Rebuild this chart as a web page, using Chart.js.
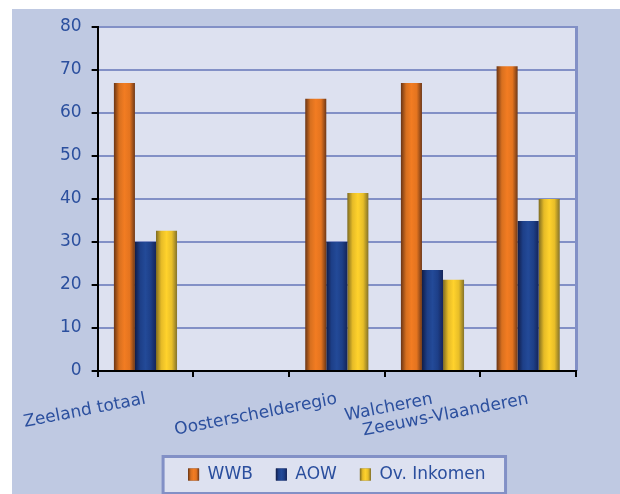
<!DOCTYPE html>
<html>
<head>
<meta charset="utf-8">
<script src="https://cdn.jsdelivr.net/npm/chart.js@4.4.1/dist/chart.umd.min.js"></script>
<style>
  body { margin: 0; background: #ffffff; }
  canvas { display: block; }
</style>
</head>
<body>
<canvas id="chart" width="620" height="494"></canvas>
<script>
// data
const categories = ['Zeeland totaal', '', 'Oosterschelderegio', 'Walcheren', 'Zeeuws-Vlaanderen'];
const wwb = [67.0, null, 63.3, 67.0, 70.9];
const aow = [30.0, null, 30.0, 23.5, 34.9];
const ovInkomen = [32.6, null, 41.4, 21.2, 40.0];
const seriesNames = ['WWB', 'AOW', 'Ov. Inkomen'];
const yMin = 0, yMax = 80, yStep = 10;

const textBlue = '#2b4f9e';
const gridBlue = '#8290c6';
const panel = '#bfc9e2';
const plotBg = '#dde1f0';
const catPct = 0.66;

// colour stops for the "cylinder" look of each series
const shades = [
  ['#6a3515', '#d8701f', '#f27c22', '#e4741f', '#6e3818'],
  ['#111d48', '#1d3f88', '#234a98', '#1d3f88', '#15255a'],
  ['#7d6b22', '#e6bb27', '#ffd22c', '#e8be28', '#857329']
];

function shadedFill(k) {
  return function (c) {
    const chart = c.chart;
    const x = chart.scales.x;
    if (c.type !== 'data' || !x || !x.width) return shades[k][2];
    const catW = x.width / categories.length;
    const barW = catW * catPct / 3;
    const left = x.getPixelForValue(c.dataIndex) - catW * catPct / 2 + c.datasetIndex * barW;
    const g = chart.ctx.createLinearGradient(left, 0, left + barW, 0);
    shades[k].forEach((col, i) => g.addColorStop(i / 4, col));
    return g;
  };
}

const backdrop = {
  id: 'backdrop',
  beforeDraw(chart) {
    const { ctx, chartArea: a } = chart;
    ctx.save();
    ctx.fillStyle = '#ffffff';
    ctx.fillRect(0, 0, chart.width, chart.height);
    ctx.fillStyle = panel;
    ctx.fillRect(12, 9, chart.width - 12, chart.height - 9);
    ctx.fillStyle = plotBg;
    ctx.fillRect(a.left, a.top, a.right - a.left, a.bottom - a.top);
    // legend frame
    const hb = chart.legend.legendHitBoxes;
    if (hb && hb.length) {
      const l = hb[0].left - 25;
      const r = hb[hb.length - 1].left + hb[hb.length - 1].width + 20;
      const cy = hb[0].top + hb[0].height / 2;
      ctx.fillStyle = plotBg;
      ctx.fillRect(l, cy - 18, r - l, 37);
      ctx.strokeStyle = gridBlue;
      ctx.lineWidth = 3;
      ctx.strokeRect(l, cy - 18, r - l, 37);
    }
    ctx.restore();
  },
  afterDatasetsDraw(chart) {
    const { ctx, chartArea: a } = chart;
    ctx.save();
    ctx.strokeStyle = gridBlue;
    ctx.lineWidth = 3;
    ctx.beginPath();
    ctx.moveTo(a.right + 0.5, a.top - 1);
    ctx.lineTo(a.right + 0.5, a.bottom);
    ctx.stroke();
    ctx.restore();
  },
  afterDraw(chart) {
    // paint the legend swatches with the same shading as the bars
    const { ctx } = chart;
    const hb = chart.legend.legendHitBoxes;
    ctx.save();
    hb.forEach((h, k) => {
      const top = h.top + (h.height - 12) / 2;
      const g = ctx.createLinearGradient(h.left, 0, h.left + 11, 0);
      shades[k].forEach((col, i) => g.addColorStop(i / 4, col));
      ctx.fillStyle = g;
      ctx.fillRect(h.left, top, 11, 12);
    });
    ctx.restore();
  }
};

new Chart(document.getElementById('chart'), {
  type: 'bar',
  data: {
    labels: categories,
    datasets: [
      { label: seriesNames[0], data: wwb, backgroundColor: shadedFill(0) },
      { label: seriesNames[1], data: aow, backgroundColor: shadedFill(1) },
      { label: seriesNames[2], data: ovInkomen, backgroundColor: shadedFill(2) }
    ]
  },
  options: {
    responsive: false,
    animation: false,
    events: [],
    categoryPercentage: catPct,
    barPercentage: 1,
    layout: { padding: { left: 50, right: 44, top: 27, bottom: 1 } },
    font: { family: '"DejaVu Sans", Verdana, sans-serif', size: 17 },
    plugins: {
      tooltip: { enabled: false },
      legend: {
        position: 'bottom',
        fullSize: false,
        labels: {
          color: textBlue,
          font: { family: '"DejaVu Sans", Verdana, sans-serif', size: 17 },
          boxWidth: 11,
          boxHeight: 12,
          padding: 23
        }
      }
    },
    scales: {
      x: {
        grid: {
          display: true,
          drawOnChartArea: false,
          drawTicks: true,
          tickLength: 6,
          tickColor: '#000000',
          lineWidth: 2
        },
        border: { display: true, color: '#000000', width: 2, z: 1 },
        ticks: {
          color: textBlue,
          font: { family: '"DejaVu Sans", Verdana, sans-serif', size: 17 },
          autoSkip: false,
          minRotation: 11,
          maxRotation: 11,
          padding: 12
        },
        afterFit(scale) { scale.height = 72; }
      },
      y: {
        min: yMin,
        max: yMax,
        grid: {
          color: (c) => c.tick && c.tick.value === 0 ? '#000000' : gridBlue,
          lineWidth: 2,
          tickLength: 6,
          tickColor: '#000000'
        },
        border: { display: true, color: '#000000', width: 2 },
        ticks: {
          stepSize: yStep,
          color: textBlue,
          font: { family: '"DejaVu Sans", Verdana, sans-serif', size: 17 },
          padding: 10
        }
      }
    }
  },
  plugins: [backdrop]
});
</script>
</body>
</html>
